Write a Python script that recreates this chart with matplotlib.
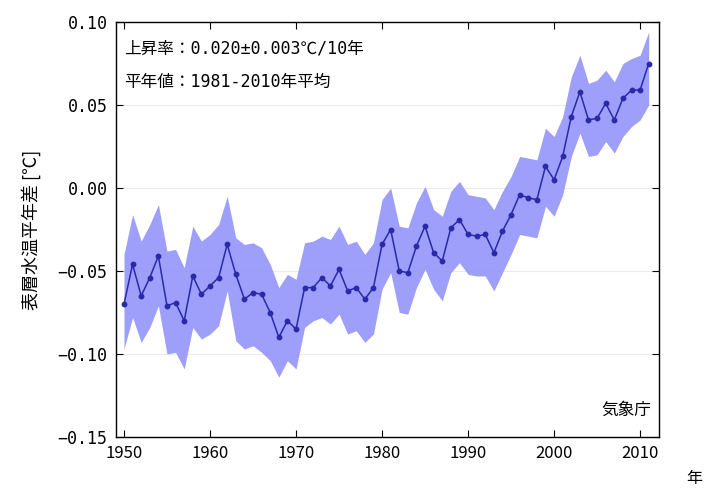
import matplotlib
matplotlib.use("Agg")
import matplotlib.pyplot as plt
import numpy as np

plt.rcParams['font.family'] = ['Noto Sans CJK JP', 'DejaVu Sans']
mono = ['DejaVu Sans Mono', 'Noto Sans CJK JP']

years = np.arange(1950, 2012)

anomaly = [-0.070, -0.046, -0.065, -0.054, -0.041, -0.071, -0.069, -0.080, -0.053, -0.064,
           -0.059, -0.054, -0.034, -0.052, -0.067, -0.063, -0.064, -0.075, -0.090, -0.080,
           -0.085, -0.060, -0.060, -0.054, -0.059, -0.049, -0.062, -0.060, -0.067, -0.060,
           -0.034, -0.025, -0.050, -0.051, -0.035, -0.023, -0.039, -0.044, -0.024, -0.019,
           -0.028, -0.029, -0.028, -0.039, -0.026, -0.016, -0.004, -0.006, -0.007, 0.013,
           0.005, 0.019, 0.043, 0.058, 0.041, 0.042, 0.051, 0.041, 0.054, 0.059,
           0.059, 0.075]

upper = [-0.040, -0.016, -0.032, -0.022, -0.010, -0.038, -0.037, -0.048, -0.023, -0.032,
         -0.028, -0.022, -0.005, -0.030, -0.034, -0.033, -0.036, -0.046, -0.060, -0.052,
         -0.055, -0.033, -0.032, -0.029, -0.031, -0.023, -0.034, -0.032, -0.040, -0.033,
         -0.007, 0.000, -0.023, -0.024, -0.009, 0.001, -0.013, -0.017, -0.002, 0.004,
         -0.004, -0.005, -0.006, -0.013, -0.002, 0.007, 0.019, 0.018, 0.017, 0.036,
         0.031, 0.043, 0.067, 0.080, 0.063, 0.065, 0.071, 0.064, 0.075, 0.078,
         0.080, 0.094]

lower = [-0.097, -0.078, -0.093, -0.084, -0.071, -0.100, -0.099, -0.109, -0.084, -0.091,
         -0.088, -0.083, -0.062, -0.092, -0.097, -0.095, -0.099, -0.104, -0.114, -0.104,
         -0.109, -0.084, -0.080, -0.078, -0.082, -0.076, -0.088, -0.086, -0.093, -0.088,
         -0.061, -0.051, -0.075, -0.076, -0.060, -0.049, -0.061, -0.068, -0.051, -0.045,
         -0.052, -0.053, -0.053, -0.062, -0.051, -0.040, -0.028, -0.029, -0.030, -0.011,
         -0.017, -0.004, 0.019, 0.033, 0.019, 0.020, 0.028, 0.021, 0.031, 0.037,
         0.041, 0.050]

fig = plt.figure(figsize=(7.05, 4.88), dpi=100)
ax = fig.add_axes([0.1645, 0.1045, 0.7703, 0.8504])

ax.fill_between(years, lower, upper, color='#9494fb', alpha=0.9, linewidth=0)
ax.plot(years, anomaly, color='#2a2aa8', linewidth=1.1, marker='o', markersize=3.2)

for v in [0.05, 0.0, -0.05, -0.10]:
    ax.axhline(v, color='#ececec', linewidth=0.8, zorder=0)

ax.set_xlim(1949.07, 2012.2)
ax.set_ylim(-0.15, 0.10)
ax.set_xticks([1950, 1960, 1970, 1980, 1990, 2000, 2010])
ax.set_yticks([0.10, 0.05, 0.00, -0.05, -0.10, -0.15])
ax.set_yticklabels(['0.10', '0.05', '0.00', '−0.05', '−0.10', '−0.15'])
ax.tick_params(direction='in', top=True, right=True, labelsize=12, length=5, pad=6)
for lab in ax.get_yticklabels():
    lab.set_family(mono)
    lab.set_fontsize(12)
for s in ax.spines.values():
    s.set_linewidth(1.0)

ax.set_ylabel('表層水温平年差 [℃]', fontsize=13, labelpad=12)

ax.text(0.015, 0.935, '上昇率：0.020±0.003℃/10年', transform=ax.transAxes,
        fontsize=12, va='center', family=mono)
ax.text(0.015, 0.855, '平年値：1981-2010年平均', transform=ax.transAxes,
        fontsize=12, va='center', family=mono)
ax.text(0.985, 0.065, '気象庁', transform=ax.transAxes, fontsize=12,
        ha='right', va='center')
fig.text(0.985, 0.02, '年', fontsize=11.5, ha='center', va='center')

fig.savefig('out.png', dpi=100)
